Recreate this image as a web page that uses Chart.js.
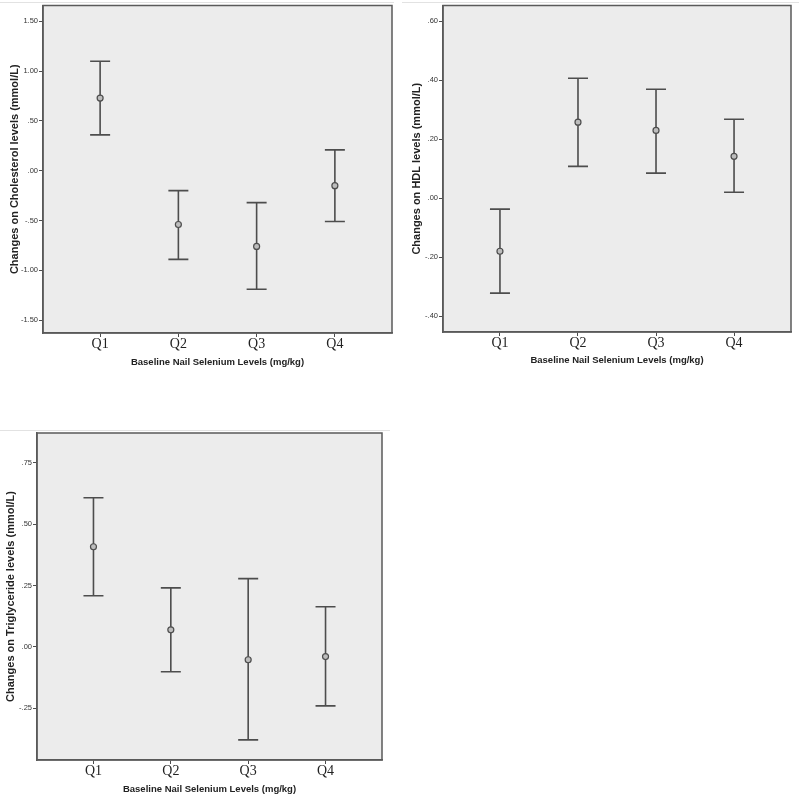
<!DOCTYPE html>
<html lang="en">
<head>
  <meta charset="UTF-8">
  <title>Changes by Baseline Nail Selenium Levels</title>
  <script src="https://cdn.jsdelivr.net/npm/chart.js"></script>
  <style>
    body {
      margin: 0;
      background: #ffffff;
      width: 799px;
      height: 799px;
      position: relative;
      overflow: hidden;
    }
    .panel {
      position: absolute;
    }
    .rule {
      position: absolute;
      height: 1px;
      background: #e2e2e2;
    }
  </style>
</head>
<body>
  <div class="rule" style="left:0;top:2px;width:394px;"></div>
  <div class="rule" style="left:402px;top:2px;width:397px;"></div>
  <div class="rule" style="left:0;top:430px;width:390px;"></div>

  <div class="panel" style="left:0;top:0;"><canvas id="cholChart" width="400" height="375"></canvas></div>
  <div class="panel" style="left:400px;top:0;"><canvas id="hdlChart" width="399" height="375"></canvas></div>
  <div class="panel" style="left:0;top:400px;"><canvas id="trigChart" width="400" height="399"></canvas></div>

  <script>
    // categories
    const quartiles = ['Q1', 'Q2', 'Q3', 'Q4'];

    // cholesterol (mean and 95% CI)
    const cholMean = [0.73, -0.54, -0.76, -0.15];
    const cholLow = [0.36, -0.89, -1.19, -0.51];
    const cholHigh = [1.10, -0.20, -0.32, 0.21];
    const cholTicks = [1.5, 1.0, 0.5, 0.0, -0.5, -1.0, -1.5];
    const cholTickLabels = ['1.50', '1.00', '.50', '.00', '-.50', '-1.00', '-1.50'];

    // HDL
    const hdlMean = [-0.18, 0.258, 0.23, 0.142];
    const hdlLow = [-0.322, 0.108, 0.085, 0.02];
    const hdlHigh = [-0.037, 0.407, 0.37, 0.268];
    const hdlTicks = [0.6, 0.4, 0.2, 0.0, -0.2, -0.4];
    const hdlTickLabels = ['.60', '.40', '.20', '.00', '-.20', '-.40'];

    // triglycerides
    const trigMean = [0.408, 0.069, -0.053, -0.04];
    const trigLow = [0.208, -0.102, -0.38, -0.241];
    const trigHigh = [0.608, 0.24, 0.278, 0.163];
    const trigTicks = [0.75, 0.5, 0.25, 0.0, -0.25];
    const trigTickLabels = ['.75', '.50', '.25', '.00', '-.25'];

    const xTitle = 'Baseline Nail Selenium Levels (mg/kg)';
    const ink = '#4d4d4d';

    // plot background, frame and error bars
    const errorBarPlugin = {
      id: 'errorBars',
      beforeDraw(chart) {
        const a = chart.chartArea;
        const ctx = chart.ctx;
        ctx.save();
        ctx.fillStyle = '#ececec';
        ctx.fillRect(a.left, a.top, a.right - a.left, a.bottom - a.top);
        ctx.restore();
      },
      beforeDatasetsDraw(chart) {
        const opts = chart.options.plugins.errorBars;
        const xs = chart.scales.x;
        const ys = chart.scales.y;
        const ctx = chart.ctx;
        ctx.save();
        ctx.strokeStyle = ink;
        ctx.lineWidth = 1.6;
        opts.low.forEach((lo, i) => {
          const x = xs.getPixelForValue(i);
          const yLo = ys.getPixelForValue(lo);
          const yHi = ys.getPixelForValue(opts.high[i]);
          ctx.beginPath();
          ctx.moveTo(x, yLo);
          ctx.lineTo(x, yHi);
          ctx.moveTo(x - 10, yLo);
          ctx.lineTo(x + 10, yLo);
          ctx.moveTo(x - 10, yHi);
          ctx.lineTo(x + 10, yHi);
          ctx.stroke();
        });
        ctx.restore();
      },
      afterDraw(chart) {
        const a = chart.chartArea;
        const ctx = chart.ctx;
        ctx.save();
        ctx.strokeStyle = '#5a5a5a';
        ctx.lineWidth = 1.5;
        ctx.strokeRect(a.left, a.top, a.right - a.left, a.bottom - a.top);
        ctx.restore();
      }
    };

    function makePanel(id, p) {
      const points = p.mean.map((m, i) => ({ x: i, y: m }));
      return new Chart(document.getElementById(id), {
        type: 'scatter',
        data: {
          datasets: [{
            data: points,
            pointRadius: 3,
            pointHoverRadius: 3,
            pointBackgroundColor: '#bdbdbd',
            pointBorderColor: ink,
            pointBorderWidth: 1.2
          }]
        },
        options: {
          responsive: false,
          animation: false,
          layout: { padding: { top: p.padTop, right: p.padRight, left: 0, bottom: 0 } },
          plugins: {
            legend: { display: false },
            tooltip: { enabled: false },
            errorBars: { low: p.low, high: p.high }
          },
          scales: {
            x: {
              type: 'linear',
              min: -0.73,
              max: 3.73,
              afterFit: s => { s.height = p.xHeight; },
              afterBuildTicks: s => { s.ticks = quartiles.map((q, i) => ({ value: i })); },
              grid: { drawOnChartArea: false, drawTicks: true, tickLength: 4, color: ink, lineWidth: 1 },
              border: { display: true, color: '#5a5a5a', width: 1.5 },
              ticks: {
                padding: 0,
                color: '#222',
                font: { family: '"Liberation Serif", "Times New Roman", serif', size: 14, lineHeight: 1.1 },
                callback: (v) => quartiles[Math.round(v)]
              },
              title: {
                display: true,
                text: xTitle,
                color: '#222',
                font: { family: '"Liberation Sans", Arial, sans-serif', size: 9.5, weight: 'bold', lineHeight: 1.2 },
                padding: { top: 0, bottom: p.xTitlePad }
              }
            },
            y: {
              min: p.yMin,
              max: p.yMax,
              afterFit: s => { s.width = p.yWidth; },
              afterBuildTicks: s => { s.ticks = p.ticks.map(v => ({ value: v })); },
              grid: { drawOnChartArea: false, drawTicks: true, tickLength: 4, color: ink, lineWidth: 1 },
              border: { display: true, color: '#5a5a5a', width: 1.5 },
              ticks: {
                padding: 1,
                color: '#333',
                font: { family: '"Liberation Sans", Arial, sans-serif', size: 7.5 },
                callback: (v) => p.tickLabels[p.ticks.findIndex(t => Math.abs(t - v) < 1e-9)]
              },
              title: {
                display: true,
                text: p.yTitle,
                color: '#222',
                font: { family: '"Liberation Sans", Arial, sans-serif', size: 11, weight: 'bold', lineHeight: 1.2 },
                padding: { top: p.yTitlePad, bottom: 0 }
              }
            }
          }
        },
        plugins: [errorBarPlugin]
      });
    }

    makePanel('cholChart', {
      mean: cholMean, low: cholLow, high: cholHigh,
      ticks: cholTicks, tickLabels: cholTickLabels,
      yMin: -1.63, yMax: 1.66,
      yTitle: 'Changes on Cholesterol levels (mmol/L)',
      padTop: 4, padRight: 8, yWidth: 43, xHeight: 42, xTitlePad: 7, yTitlePad: 8
    });

    makePanel('hdlChart', {
      mean: hdlMean, low: hdlLow, high: hdlHigh,
      ticks: hdlTicks, tickLabels: hdlTickLabels,
      yMin: -0.454, yMax: 0.654,
      yTitle: 'Changes on HDL levels (mmol/L)',
      padTop: 5, padRight: 8, yWidth: 43, xHeight: 43, xTitlePad: 9, yTitlePad: 10
    });

    makePanel('trigChart', {
      mean: trigMean, low: trigLow, high: trigHigh,
      ticks: trigTicks, tickLabels: trigTickLabels,
      yMin: -0.462, yMax: 0.872,
      yTitle: 'Changes on Triglyceride levels (mmol/L)',
      padTop: 33, padRight: 18, yWidth: 37, xHeight: 39, xTitlePad: 4, yTitlePad: 4
    });
  </script>
</body>
</html>
